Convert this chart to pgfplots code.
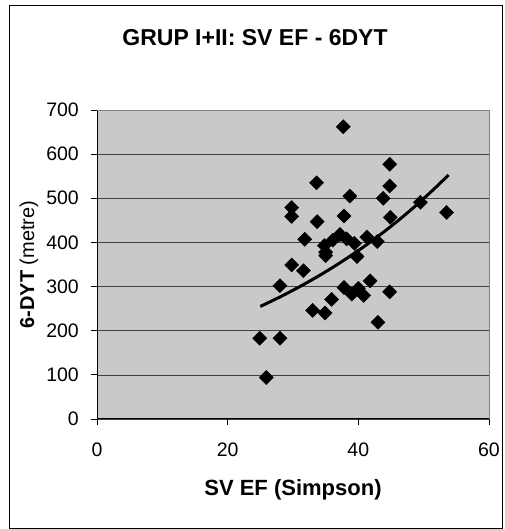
\documentclass[border=0pt]{standalone}
\usepackage{pgfplots}
\pgfplotsset{compat=1.18}
\usepackage{fontspec}
\setmainfont{Liberation Sans}
\begin{document}
\begin{tikzpicture}[x=1pt,y=1pt]
\path[use as bounding box] (0,0) rectangle (504,529);
\draw[line width=0.8pt] (9.5,1) rectangle (502,524);
\node[font=\fontsize{23}{26}\selectfont\bfseries, anchor=base, inner sep=0pt] at (255,483.6) {GRUP I+II: SV EF - 6DYT};
\begin{axis}[
  at={(97pt,110pt)}, anchor=south west,
  scale only axis, width=392pt, height=309pt,
  xmin=0, xmax=60, ymin=0, ymax=700,
  xtick={0,20,40,60}, ytick={0,100,...,700},
  axis lines=left, axis line style={-, line width=1pt},
  tick align=outside, major tick length=6pt,
  tick style={black, line width=0.8pt},
  ymajorgrids, major grid style={black!75, line width=0.6pt},
  axis background/.style={fill=gray!42},
  ticklabel style={font=\fontsize{19.5}{22}\selectfont},
  /pgf/number format/assume math mode=true,
  xticklabel style={anchor=center, inner sep=0pt, yshift=-25pt},
  yticklabel style={anchor=east, inner sep=0pt, xshift=-12pt},
  xlabel={\textbf{SV EF (Simpson)}},
  xlabel style={font=\fontsize{22}{26}\selectfont, at={(axis description cs:0.5,-0.249)}, anchor=base, inner sep=0pt},
  ylabel={\textbf{6-DYT} (metre)},
  ylabel style={font=\fontsize{20}{24}\selectfont, at={(axis description cs:-0.1735,0.5)}, anchor=center, inner sep=0pt},
  clip=false,
]
\draw[gray, line width=0.5pt] (rel axis cs:0,1) -- (rel axis cs:1,1) -- (rel axis cs:1,0);
\addplot[only marks, mark=square*, mark size=5pt, mark options={rotate=45, fill=black, draw=black}] coordinates {
(37.7,662) (44.8,577) (44.8,528) (33.6,535) (38.7,505) (43.8,500) (49.5,491) (53.5,468)
(29.8,479) (29.8,459) (33.7,447) (37.8,460) (44.9,457)
(37.2,418) (38.2,408) (36.1,405) (39.4,398) (41.3,412) (42.9,402) (31.8,407)
(34.8,393) (35.0,378) (35.0,370) (39.8,368)
(29.8,349) (31.6,336) (28.0,302) (41.8,313)
(37.8,298) (40.0,296) (39.0,283) (40.8,280) (44.8,288)
(35.9,271) (33.0,246) (34.9,240) (43.0,219)
(24.9,183) (28.0,183) (25.9,94)
};
\addplot[black, line width=3pt, smooth, no markers] coordinates {
(25,255) (28,276.4) (31,299.6) (34,324.7) (37,352.0) (40,381.6) (43,413.6) (46,448.4) (49,486.0) (52,526.8) (53.8,552.9)
};
\end{axis}
\end{tikzpicture}
\end{document}
